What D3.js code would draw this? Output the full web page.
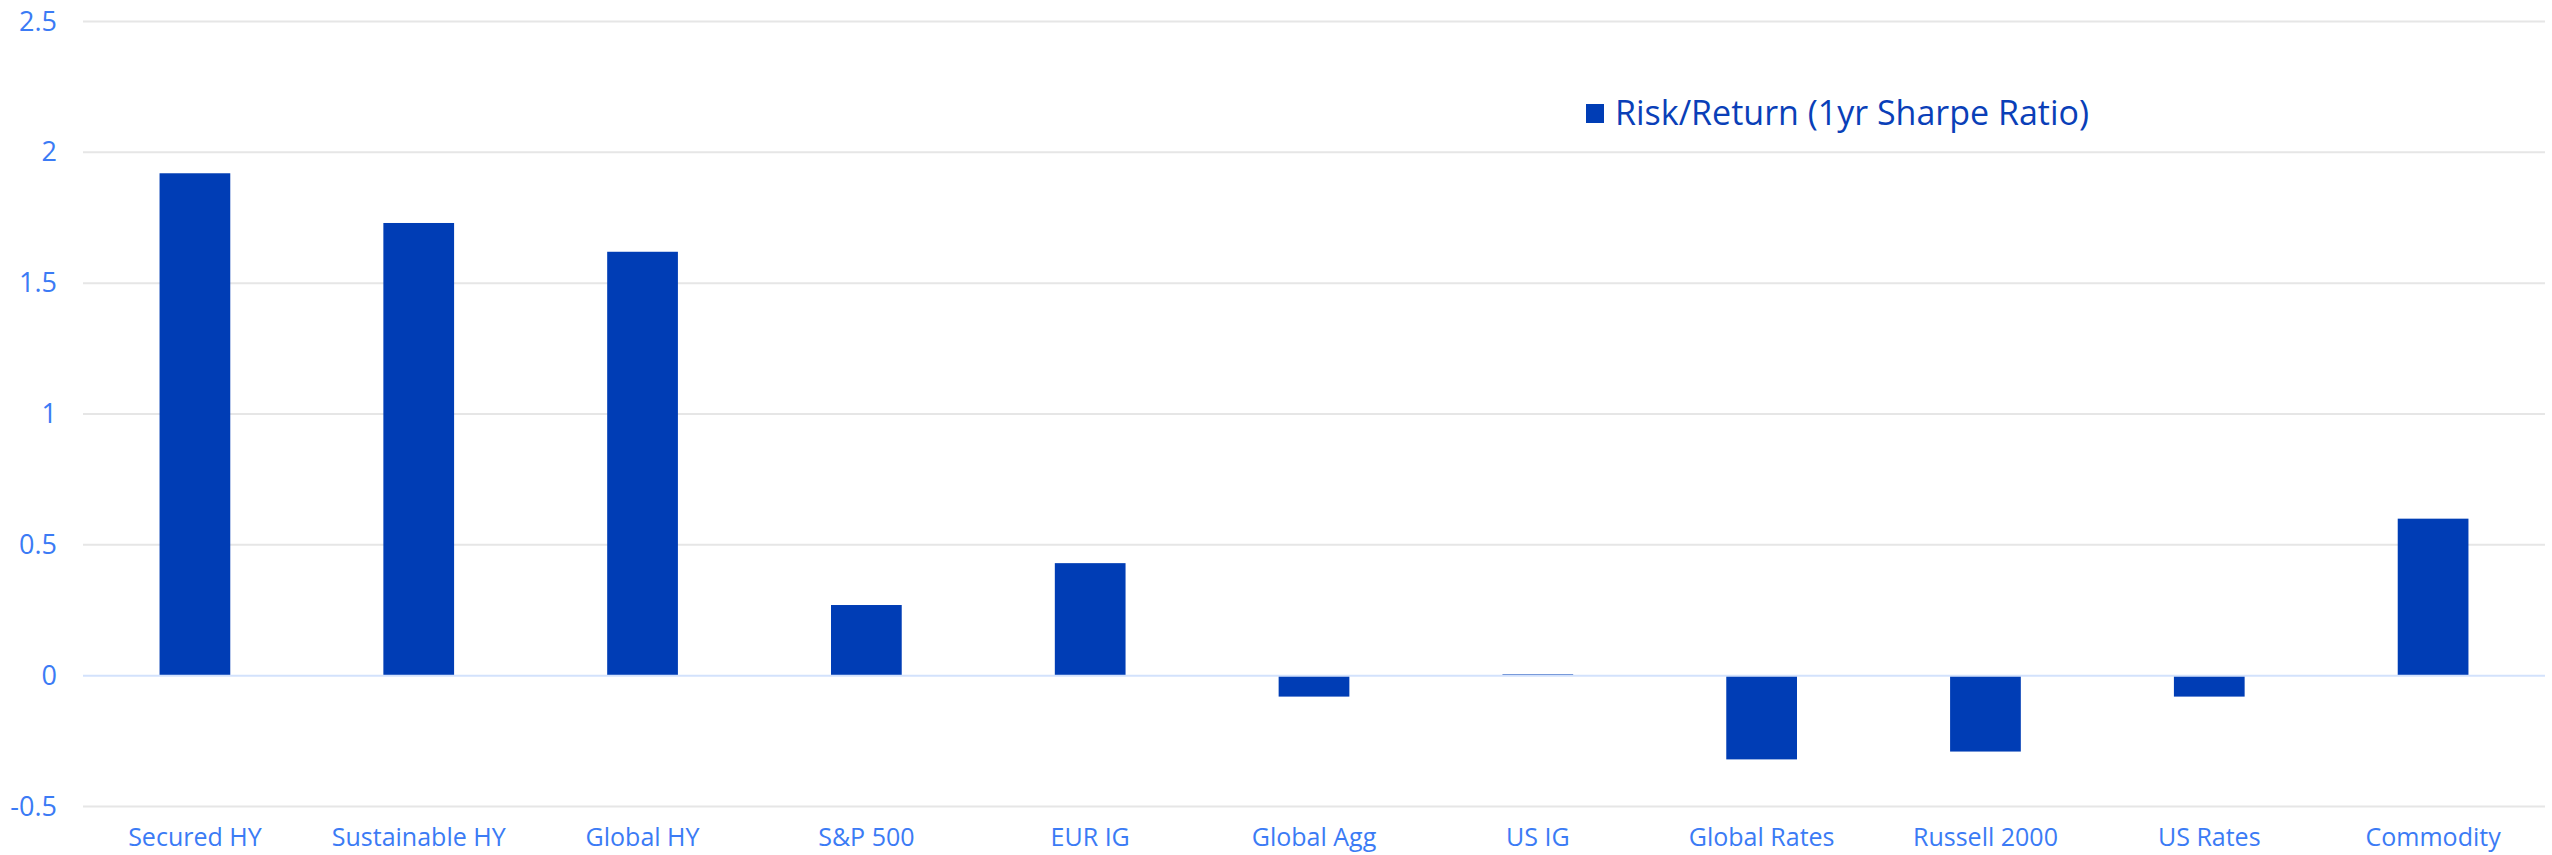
<!DOCTYPE html>
<html>
<head>
<meta charset="utf-8">
<script src="https://cdn.jsdelivr.net/npm/d3@7"></script>
<style>
  html, body { margin: 0; padding: 0; background: #ffffff; }
  svg { display: block; }
  text { font-family: "Open Sans", "Noto Sans", sans-serif; }
</style>
</head>
<body>
<svg id="chart" width="2552" height="855"></svg>
<script>
const categories = ["Secured HY", "Sustainable HY", "Global HY", "S&P 500", "EUR IG",
  "Global Agg", "US IG", "Global Rates", "Russell 2000", "US Rates", "Commodity"];
const sharpeValues = [1.92, 1.73, 1.62, 0.27, 0.43, -0.08, 0.005, -0.32, -0.29, -0.08, 0.60];
const yTicks = [-0.5, 0, 0.5, 1, 1.5, 2, 2.5];
const seriesName = "Risk/Return (1yr Sharpe Ratio)";

const svg = d3.select("#chart");
const plotLeft = 83, plotRight = 2545, plotTop = 21.5, plotBottom = 806.5;

const x = d3.scaleBand().domain(categories).range([plotLeft, plotRight])
  .paddingInner(0.684).paddingOuter(0.342);
const y = d3.scaleLinear().domain([-0.5, 2.5]).range([plotBottom, plotTop]);

// horizontal gridlines
svg.append("g").selectAll("line").data(yTicks.filter(t => t !== 0)).join("line")
  .attr("x1", plotLeft).attr("x2", plotRight)
  .attr("y1", d => y(d)).attr("y2", d => y(d))
  .attr("stroke", "#e6e6e6").attr("stroke-width", 2);

// y-axis labels
const yAxis = d3.axisLeft(y).tickValues(yTicks).tickSize(0).tickPadding(0)
  .tickFormat(d => String(d));
svg.append("g").attr("transform", `translate(57,0)`).call(yAxis)
  .call(g => g.select(".domain").remove())
  .selectAll("text")
  .attr("fill", "#3b7bf5").attr("font-size", 27).attr("font-family", "Open Sans");

// bars
svg.append("g").selectAll("rect").data(categories).join("rect")
  .attr("x", d => x(d))
  .attr("width", x.bandwidth())
  .attr("y", (d, i) => y(Math.max(0, sharpeValues[i])))
  .attr("height", (d, i) => Math.abs(y(sharpeValues[i]) - y(0)))
  .attr("fill", "#003db5");

// zero baseline
svg.append("line").attr("x1", plotLeft).attr("x2", plotRight)
  .attr("y1", y(0)).attr("y2", y(0))
  .attr("stroke", "#d3e2fc").attr("stroke-width", 2);

// category labels
const xAxis = d3.axisBottom(x).tickSize(0).tickPadding(0);
svg.append("g").attr("transform", `translate(0,${plotBottom + 22})`).call(xAxis)
  .call(g => g.select(".domain").remove())
  .selectAll("text")
  .attr("fill", "#3b7bf5").attr("font-size", 25).attr("font-family", "Open Sans");

// legend
const lg = svg.append("g").attr("transform", "translate(1586,104)");
lg.append("rect").attr("width", 18).attr("height", 19).attr("fill", "#003db5");
lg.append("text").attr("x", 29).attr("y", 21)
  .attr("fill", "#0a3fb8").attr("font-size", 34).text(seriesName);
</script>
</body>
</html>
